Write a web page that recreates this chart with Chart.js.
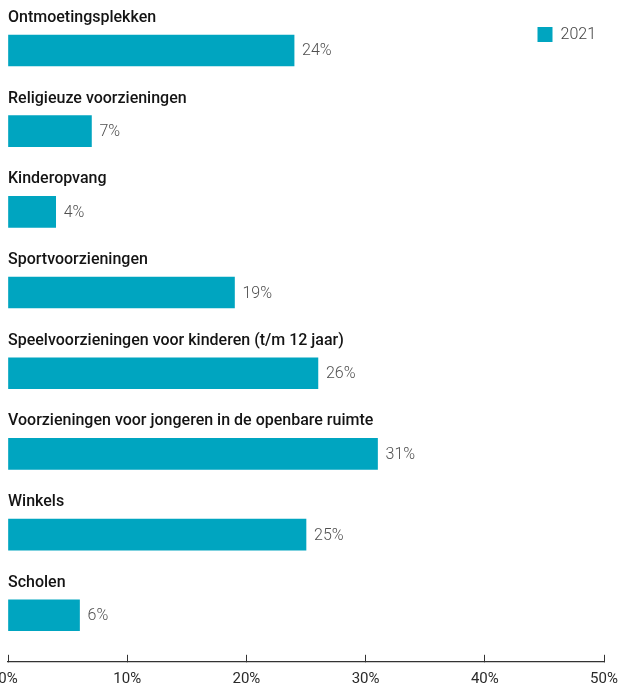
<!DOCTYPE html>
<html>
<head>
<meta charset="utf-8">
<script src="https://cdn.jsdelivr.net/npm/chart.js@4/dist/chart.umd.min.js"></script>
<style>
  html, body { margin: 0; padding: 0; background: #fff; overflow: hidden; }
  #frame { position: relative; width: 619px; height: 684px; overflow: hidden; }
  #holder { position: absolute; left: -22px; top: 0; width: 660px; height: 704px; }
</style>
</head>
<body>
<div id="frame">
  <div id="holder"><canvas id="voorzieningen"></canvas></div>
</div>
<script>
const categorieen = [
  "Ontmoetingsplekken",
  "Religieuze voorzieningen",
  "Kinderopvang",
  "Sportvoorzieningen",
  "Speelvoorzieningen voor kinderen (t/m 12 jaar)",
  "Voorzieningen voor jongeren in de openbare ruimte",
  "Winkels",
  "Scholen"
]
const waarden2021 = [24, 7, 4, 19, 26, 31, 25, 6]
const reeksNaam = "2021"
const asMin = 0
const asMax = 50
const asStap = 10

const kleur = "#00a5c0"

// categorie boven de balk, percentage rechts ervan
const balkLabels = {
  id: "balkLabels",
  afterDatasetsDraw(chart) {
    const ctx = chart.ctx
    const meta = chart.getDatasetMeta(0)
    ctx.save()
    meta.data.forEach((bar, i) => {
      const boven = bar.y - bar.height / 2
      ctx.font = "500 16px Roboto"
      ctx.fillStyle = "#141414"
      ctx.textAlign = "left"
      ctx.textBaseline = "alphabetic"
      ctx.fillText(categorieen[i], chart.chartArea.left, boven - 13)

      ctx.font = "300 16px Roboto"
      ctx.fillStyle = "#505050"
      ctx.textBaseline = "middle"
      ctx.fillText(waarden2021[i] + "%", bar.x + 8, bar.y + 1)
    })
    ctx.restore()
  }
}

Chart.defaults.font.family = "Roboto"

new Chart(document.getElementById("voorzieningen"), {
  type: "bar",
  data: {
    datasets: [{
      label: reeksNaam,
      data: waarden2021.map((v, i) => ({ x: v, y: i })),
      backgroundColor: kleur,
      borderWidth: 0,
      barThickness: 31,
      clip: false
    }]
  },
  options: {
    indexAxis: "y",
    responsive: true,
    maintainAspectRatio: false,
    animation: false,
    layout: {
      padding: { left: 30, right: 34, top: 18.5, bottom: 0 }
    },
    scales: {
      y: {
        type: "linear",
        display: false,
        offset: false,
        reverse: true,
        min: -0.0867,
        max: 7.577
      },
      x: {
        type: "linear",
        position: "bottom",
        min: asMin,
        max: asMax,
        grid: {
          drawOnChartArea: false,
          drawTicks: true,
          tickLength: -7,
          color: "#333",
          lineWidth: 1
        },
        border: { display: true, color: "#333", width: 1.3 },
        ticks: {
          stepSize: asStap,
          padding: 15.6,
          color: "#2a2a2a",
          font: { size: 15, weight: 400 },
          maxRotation: 0,
          callback: v => v + "%"
        }
      }
    },
    plugins: {
      legend: {
        position: "top",
        align: "end",
        maxHeight: 25,
        labels: {
          boxWidth: 15,
          boxHeight: 15,
          padding: 8,
          color: "#444",
          font: { size: 16, weight: 300 }
        }
      },
      tooltip: { enabled: false }
    }
  },
  plugins: [balkLabels]
})
</script>
</body>
</html>
